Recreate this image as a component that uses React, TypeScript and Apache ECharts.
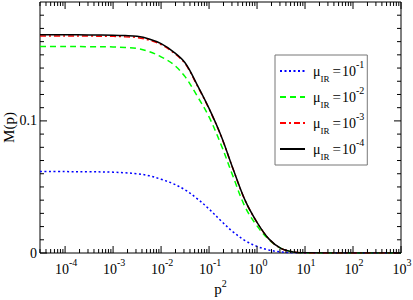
import React, { useEffect, useRef } from "react";
import * as echarts from "echarts";

// p^2 sample positions
const p2 = [3e-5, 1e-4, 3.16e-4, 1e-3, 1.78e-3, 3.16e-3, 5.62e-3, 1e-2, 1.78e-2, 3.16e-2, 5.62e-2, 0.1, 0.178, 0.316, 0.562, 1, 1.78, 3.16, 5.62, 10, 31.6, 100, 316, 1000];
// M(p) for mu_IR = 1e-1, 1e-2, 1e-3, 1e-4
const mu1 = [0.0616, 0.0616, 0.0615, 0.0612, 0.0607, 0.0600, 0.0585, 0.0558, 0.0525, 0.0478, 0.0412, 0.0333, 0.0243, 0.0160, 0.0094, 0.0050, 0.0022, 0.0008, 0.0002, 0, 0, 0, 0, 0];
const mu2 = [0.1563, 0.1563, 0.1562, 0.1560, 0.1556, 0.1548, 0.1525, 0.1485, 0.1430, 0.1335, 0.1190, 0.1030, 0.0820, 0.0580, 0.0350, 0.0205, 0.0100, 0.0035, 0.0008, 0.0001, 0, 0, 0, 0];
const mu3 = [0.1643, 0.1643, 0.1642, 0.1640, 0.1637, 0.1631, 0.1612, 0.1578, 0.1519, 0.1434, 0.1270, 0.1091, 0.0885, 0.0636, 0.0399, 0.0231, 0.0105, 0.0035, 0.0008, 0.0001, 0, 0, 0, 0];
const mu4 = [0.1652, 0.1652, 0.1651, 0.1649, 0.1646, 0.1640, 0.1620, 0.1585, 0.1525, 0.1440, 0.1275, 0.1095, 0.0888, 0.0638, 0.0400, 0.0232, 0.0105, 0.0035, 0.0008, 0.0001, 0, 0, 0, 0];

const legendNames = ["μIR = 10^-1", "μIR = 10^-2", "μIR = 10^-3", "μIR = 10^-4"];
const legendExps = ["-1", "-2", "-3", "-4"];

const xMajorTicks = [1e-4, 1e-3, 1e-2, 1e-1, 1, 10, 100, 1000];
const xTickExps = ["-4", "-3", "-2", "-1", "0", "1", "2", "3"];
const yMajorTicks = [0, 0.1];
const yMinorTicks = [0.01, 0.02, 0.03, 0.04, 0.05, 0.06, 0.07, 0.08, 0.09, 0.11, 0.12, 0.13, 0.14, 0.15, 0.16, 0.17, 0.18];

const X_MIN = 3e-5;
const X_MAX = 1000;
const Y_MIN = 0;
const Y_MAX = 0.19;

const FONT = "'Liberation Serif', 'Times New Roman', serif";

const xMinorTicks: number[] = [];
for (let e = -5; e < 3; e++) {
  for (let k = 2; k <= 9; k++) {
    const v = k * Math.pow(10, e);
    if (v > X_MIN && v < X_MAX) xMinorTicks.push(v);
  }
}

export default function App() {
  const ref = useRef<HTMLDivElement>(null);
  useEffect(() => {
    if (!ref.current) return;
    const chart = echarts.init(ref.current, null, { renderer: "svg" });
    const mk = (arr: number[]) => arr.map((v, i) => [p2[i], v]);
    const supRich = {
      b: { fontFamily: FONT, fontSize: 14, lineHeight: 24, color: "#000" },
      s: { fontFamily: FONT, fontSize: 10, verticalAlign: "top", color: "#000" },
    };
    const xTickSeries = (vals: number[], len: number, labels: boolean) => ({
      type: "custom",
      silent: true,
      clip: false,
      z: 10,
      data: vals.map((v) => [v, 0]),
      encode: { x: 0, y: 1 },
      renderItem: (params: any, api: any) => {
        const v = api.value(0);
        const b = api.coord([v, Y_MIN]);
        const t = api.coord([v, Y_MAX]);
        const children: any[] = [
          { type: "line", shape: { x1: b[0], y1: b[1], x2: b[0], y2: b[1] - len }, style: { stroke: "#000", lineWidth: 1 } },
          { type: "line", shape: { x1: t[0], y1: t[1], x2: t[0], y2: t[1] + len }, style: { stroke: "#000", lineWidth: 1 } },
        ];
        if (labels) {
          children.push({
            type: "text",
            x: b[0] + 1,
            y: b[1] + 4,
            style: {
              text: "{b|10}{s|" + xTickExps[params.dataIndex] + "}",
              rich: supRich,
              fontFamily: FONT,
              align: "center",
              verticalAlign: "top",
            },
          });
        }
        return { type: "group", children };
      },
    });
    const yTickSeries = (vals: number[], len: number) => ({
      type: "custom",
      silent: true,
      clip: false,
      z: 10,
      data: vals.map((v) => [X_MIN, v]),
      encode: { x: 0, y: 1 },
      renderItem: (params: any, api: any) => {
        const v = api.value(1);
        const l = api.coord([X_MIN, v]);
        const r = api.coord([X_MAX, v]);
        return {
          type: "group",
          children: [
            { type: "line", shape: { x1: l[0], y1: l[1], x2: l[0] + len, y2: l[1] }, style: { stroke: "#000", lineWidth: 1 } },
            { type: "line", shape: { x1: r[0], y1: r[1], x2: r[0] - len, y2: r[1] }, style: { stroke: "#000", lineWidth: 1 } },
          ],
        };
      },
    });
    const lineSeries = (name: string, data: number[], color: string, type: any) => ({
      name,
      type: "line",
      data: mk(data),
      symbol: "none",
      smooth: 0.35,
      lineStyle: { color, width: 1.5, type },
      itemStyle: { color },
      z: 5,
    });
    chart.setOption({
      animation: false,
      backgroundColor: "#fff",
      textStyle: { fontFamily: FONT },
      grid: { left: 40, right: 12, top: 2, bottom: 47, outerBoundsMode: "none", containLabel: false, show: true, borderColor: "#000", borderWidth: 1, backgroundColor: "transparent" },
      xAxis: {
        type: "log",
        logBase: 10,
        min: X_MIN,
        max: X_MAX,
        axisLine: { show: false },
        axisTick: { show: false },
        axisLabel: { show: false },
        splitLine: { show: false },
        name: "{b|p}{s|2}",
        nameLocation: "middle",
        nameGap: 25,
        nameMoveOverlap: false,
        nameTextStyle: {
          fontFamily: FONT,
          rich: {
            b: { fontFamily: FONT, fontSize: 15, lineHeight: 22, color: "#000" },
            s: { fontFamily: FONT, fontSize: 10, verticalAlign: "top", color: "#000" },
          },
        },
      },
      yAxis: {
        type: "value",
        min: Y_MIN,
        max: Y_MAX,
        interval: 0.1,
        axisLine: { show: false },
        axisTick: { show: false },
        splitLine: { show: false },
        axisLabel: { showMaxLabel: false, margin: 3, fontFamily: FONT, fontSize: 14, color: "#000" },
        name: "M(p)",
        nameLocation: "middle",
        nameGap: 24,
        nameMoveOverlap: false,
        nameTextStyle: { fontFamily: FONT, fontSize: 15, color: "#000" },
      },
      legend: {
        data: legendNames,
        orient: "vertical",
        left: 275,
        top: 55,
        padding: [4, 3, 4, 4],
        borderColor: "#777",
        borderWidth: 1,
        itemWidth: 25,
        itemHeight: 12,
        itemGap: 2,
        itemStyle: { opacity: 0 },
        formatter: (name: string) => "{m|μ}{sub|IR}{eq|=}{n|10}{sup|" + legendExps[legendNames.indexOf(name)] + "}",
        textStyle: {
          color: "#000",
          fontFamily: FONT,
          fontSize: 14,
          rich: {
            m: { fontFamily: FONT, fontSize: 14, lineHeight: 24, color: "#000", padding: [0, 0, 0, 3] },
            sub: { fontFamily: FONT, fontSize: 9, verticalAlign: "bottom", color: "#000" },
            eq: { fontFamily: FONT, fontSize: 15, lineHeight: 24, color: "#000", padding: [0, 1, 0, 3] },
            n: { fontFamily: FONT, fontSize: 14, lineHeight: 24, color: "#000" },
            sup: { fontFamily: FONT, fontSize: 10, verticalAlign: "top", color: "#000" },
          },
        },
      },
      series: [
        lineSeries(legendNames[0], mu1, "#0000ff", [2, 2.5]),
        lineSeries(legendNames[1], mu2, "#00ff00", [6, 4]),
        lineSeries(legendNames[2], mu3, "#ff0000", [6, 3, 2, 3]),
        lineSeries(legendNames[3], mu4, "#000000", "solid"),
        xTickSeries(xMajorTicks, 7, true),
        xTickSeries(xMinorTicks, 4, false),
        yTickSeries(yMajorTicks, 7),
        yTickSeries(yMinorTicks, 4),
      ],
    });
    return () => chart.dispose();
  }, []);
  return <div ref={ref} style={{ position: "fixed", left: 0, top: 0, width: 413, height: 300, background: "#fff" }} />;
}
